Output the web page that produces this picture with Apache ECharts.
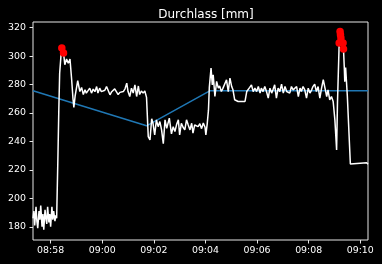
<!DOCTYPE html>
<html><head><meta charset="utf-8">
<script src="https://cdn.jsdelivr.net/npm/echarts@6/dist/echarts.min.js"></script>
<style>html,body{margin:0;padding:0;background:#000;}#c{width:382px;height:264px;}</style>
</head><body><div id="c"></div>
<script>
const titleText = "Durchlass [mm]";
const xTickLabels = ["08:58","09:00","09:02","09:04","09:06","09:08","09:10"];
const yTickValues = [180,200,220,240,260,280,300,320];
const xRange = ["08:57:19","09:10:18"];
const yRange = [170.7, 324];

const times = [
"08:57:19","08:57:21","08:57:23","08:57:26","08:57:28","08:57:30","08:57:33","08:57:35","08:57:37","08:57:40",
"08:57:42","08:57:44","08:57:47","08:57:49","08:57:51","08:57:53","08:57:56","08:57:58","08:58:00","08:58:03",
"08:58:05","08:58:07","08:58:10","08:58:12","08:58:14","08:58:17","08:58:19","08:58:21","08:58:24","08:58:26",
"08:58:30","08:58:33","08:58:37","08:58:41","08:58:45","08:58:49","08:58:52","08:58:54","08:58:57","08:59:03",
"08:59:08","08:59:12","08:59:16","08:59:20","08:59:23","08:59:27","08:59:31","08:59:35","08:59:39","08:59:43",
"08:59:47","08:59:50","08:59:54","08:59:58","09:00:02","09:00:06","09:00:10","09:00:14","09:00:18","09:00:22",
"09:00:25","09:00:29","09:00:33","09:00:37","09:00:41","09:00:45","09:00:49","09:00:53","09:00:57","09:01:00",
"09:01:04","09:01:08","09:01:12","09:01:16","09:01:20","09:01:24","09:01:27","09:01:31","09:01:35","09:01:39",
"09:01:43","09:01:47","09:01:51","09:01:55","09:01:58","09:02:02","09:02:06","09:02:10","09:02:14","09:02:18",
"09:02:22","09:02:26","09:02:30","09:02:36","09:02:41","09:02:45","09:02:49","09:02:53","09:02:57","09:03:00",
"09:03:04","09:03:08","09:03:12","09:03:16","09:03:20","09:03:24","09:03:28","09:03:31","09:03:35","09:03:39",
"09:03:43","09:03:47","09:03:51","09:03:55","09:03:59","09:04:01","09:04:04","09:04:07","09:04:09","09:04:13",
"09:04:16","09:04:18","09:04:22","09:04:26","09:04:30","09:04:33","09:04:37","09:04:40","09:04:43","09:04:49",
"09:04:53","09:04:57","09:05:01","09:05:04","09:05:08","09:05:12","09:05:16","09:05:24","09:05:32","09:05:36",
"09:05:39","09:05:43","09:05:47","09:05:51","09:05:55","09:05:59","09:06:03","09:06:07","09:06:10","09:06:14",
"09:06:18","09:06:22","09:06:26","09:06:30","09:06:34","09:06:37","09:06:41","09:06:45","09:06:49","09:06:53",
"09:06:57","09:07:01","09:07:05","09:07:09","09:07:12","09:07:16","09:07:20","09:07:24","09:07:28","09:07:32",
"09:07:36","09:07:40","09:07:43","09:07:47","09:07:51","09:07:55","09:07:59","09:08:03","09:08:07","09:08:10",
"09:08:14","09:08:18","09:08:22","09:08:26","09:08:30","09:08:34","09:08:38","09:08:42","09:08:45","09:08:49",
"09:08:53","09:08:57","09:09:01","09:09:05","09:09:07","09:09:11","09:09:13","09:09:14","09:09:15","09:09:20",
"09:09:21","09:09:23","09:09:24","09:09:26","09:09:30","09:09:37","09:09:41","09:10:15","09:10:18"
];
const values = [
186,191,181,194,184,179,191,185,195,180,
189,178,192,186,182,194,183,189,180,194,
185,191,184,188,186,230,262,288,300,305.7,
302.2,294,298,295,298,283,270,264,272,282.7,
275.1,278,273,276.3,274,275.1,277.5,274,276.8,275,
278.6,274,277.5,275,274,276,278.6,277.5,272.8,275,
276.3,277,276.3,273,274.5,274,275.1,277,281,275.1,
271.6,277.5,274,279.8,271.6,279,273,275.5,274,275.5,
271,243.4,241,256,252.8,244.6,255.2,250.4,254,248.1,
238.5,255.2,249.3,256.4,245.4,250.4,247,252,255.2,244.6,
252.8,250,248.1,255.2,251.6,248.1,252.8,245.8,251.6,253,
250.4,252.5,249,253,250,244.6,252,262,278,291.6,
279.8,286.9,271.6,282.2,277.5,279,275.1,277,278,283.4,
275.1,284.6,278.6,276.3,269.3,268.1,268.1,268.1,268.1,275.1,
276,278,279.8,275,277.5,275.1,278.6,274,277.5,275.1,
278.6,275.1,270.5,277.5,274,276.3,279.8,270.5,277.5,275.1,
280.3,274,278.6,275.1,276.3,274,278.6,276.3,275.1,278.6,
271.6,277.5,275.1,278.6,276.3,270.5,277.5,274,276.3,278.6,
280.3,275.1,278.6,270.5,277.5,283.4,277.5,271.6,276.3,269.3,
271.6,268.1,255.2,234,267,309.2,317.4,315,312.7,309.2,
305,291,282,292,271.6,224.2,225,225,224
];
const trendTimes = ["08:57:19","09:01:43","09:04:10","09:10:18"];
const trendValues = [275.6,251,275.6,275.6];
const peakTimes = ["08:58:26","08:58:30","09:09:11","09:09:13","09:09:14","09:09:15","09:09:20","09:09:21"];
const peakValues = [305.7,302.2,309.2,317.4,315,312.7,309.2,305];

function toMin(s){const p=s.split(':').map(Number);return p[0]*60+p[1]+(p[2]||0)/60;}
function pairs(t,v){return t.map((s,i)=>[toMin(s),v[i]]);}
function fmt(v){const h=Math.floor(v/60+1e-9);const m=Math.round(v-h*60);return String(h).padStart(2,'0')+':'+String(m).padStart(2,'0');}

const xTicks = xTickLabels.map(toMin);
const font = 'DejaVu Sans';
const chart = echarts.init(document.getElementById('c'), null, {renderer:'canvas'});
chart.setOption({
  backgroundColor:'#000',
  animation:false,
  title:{text:titleText,left:201,top:4,textAlign:'center',
    textStyle:{color:'#fff',fontSize:12,fontWeight:'normal',fontFamily:font}},
  grid:{left:33,right:14,top:22,bottom:24,containLabel:false,outerBoundsMode:'none',
    show:true,borderColor:'#e6e6e6',borderWidth:1,backgroundColor:'#000'},
  xAxis:{type:'value',min:toMin(xRange[0]),max:toMin(xRange[1]),
    axisLine:{show:false},splitLine:{show:false},
    axisTick:{show:true,length:3.5,customValues:xTicks,lineStyle:{color:'#e6e6e6'}},
    axisLabel:{customValues:xTicks,formatter:fmt,color:'#fff',fontSize:9.4,fontFamily:font,margin:6}},
  yAxis:{type:'value',min:yRange[0],max:yRange[1],
    axisLine:{show:false},splitLine:{show:false},
    axisTick:{show:true,length:3.5,customValues:yTickValues,lineStyle:{color:'#e6e6e6'}},
    axisLabel:{customValues:yTickValues,color:'#fff',fontSize:9.4,fontFamily:font,margin:7}},
  series:[
    {type:'line',data:pairs(trendTimes,trendValues),showSymbol:false,
      lineStyle:{color:'#1f77b4',width:1.5},z:2},
    {type:'line',data:pairs(times,values),showSymbol:false,
      lineStyle:{color:'#ffffff',width:1.5},z:3},
    {type:'scatter',data:pairs(peakTimes,peakValues),symbolSize:7.5,
      itemStyle:{color:'#ff0000',opacity:1},z:4}
  ]
});
</script></body></html>
